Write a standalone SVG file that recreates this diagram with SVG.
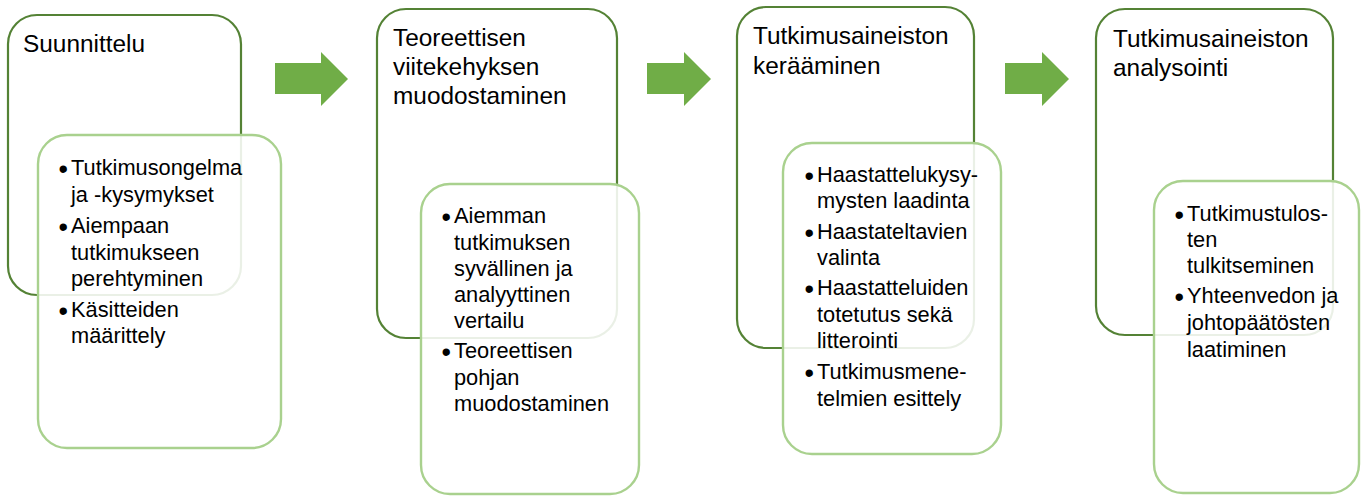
<svg xmlns="http://www.w3.org/2000/svg" width="1367" height="496" viewBox="0 0 1367 496">
<style>
.outer{fill:#ffffff;stroke:#548235;stroke-width:2.2}
.inner{fill:#ffffff;fill-opacity:0.88;stroke:#a9d18e;stroke-width:2.4}
.title{font-family:"Liberation Sans",Arial,sans-serif;font-size:24.4px;fill:#000}
.item{font-family:"Liberation Sans",Arial,sans-serif;font-size:21.8px;fill:#000}
.b{font-size:27px}
.arrow{fill:#70ad47}
</style>
<rect width="1367" height="496" fill="#ffffff"/>
<g id="connectors">
<path class="arrow" d="M275,63 H321 V52 L348,79 L321,106 V94 H275 Z"/>
<path class="arrow" d="M647,63 H684 V52 L711,79 L684,106 V94 H647 Z"/>
<path class="arrow" d="M1005,63 H1042 V52 L1069,79 L1042,106 V94 H1005 Z"/>
</g>
<g id="n1">
<rect class="outer" x="8" y="15" width="233" height="280" rx="29"/>
<text class="title" x="23" y="52">Suunnittelu</text>
</g>
<g id="n1-detail">
<rect class="inner" x="38" y="135" width="243" height="313" rx="29"/>
<g class="item">
<text class="b" x="58.5" y="178">•</text><text x="71" y="175">Tutkimusongelma</text>
<text x="71" y="202">ja -kysymykset</text>
<text class="b" x="58.5" y="236">•</text><text x="71" y="233">Aiempaan</text>
<text x="71" y="260">tutkimukseen</text>
<text x="71" y="286">perehtyminen</text>
<text class="b" x="58.5" y="320">•</text><text x="71" y="317">Käsitteiden</text>
<text x="71" y="343">määrittely</text>
</g>
</g>
<g id="n2">
<rect class="outer" x="377" y="9" width="240" height="329" rx="29"/>
<text class="title" x="393" y="46">Teoreettisen</text>
<text class="title" x="393" y="75">viitekehyksen</text>
<text class="title" x="393" y="104">muodostaminen</text>
</g>
<g id="n2-detail">
<rect class="inner" x="421" y="184" width="218" height="310" rx="29"/>
<g class="item">
<text class="b" x="441.5" y="226">•</text><text x="454" y="223">Aiemman</text>
<text x="454" y="250">tutkimuksen</text>
<text x="454" y="276">syvällinen ja</text>
<text x="454" y="302">analyyttinen</text>
<text x="454" y="328">vertailu</text>
<text class="b" x="441.5" y="361">•</text><text x="454" y="358">Teoreettisen</text>
<text x="454" y="385">pohjan</text>
<text x="454" y="411">muodostaminen</text>
</g>
</g>
<g id="n3">
<rect class="outer" x="737" y="7" width="237" height="341" rx="29"/>
<text class="title" x="753" y="44">Tutkimusaineiston</text>
<text class="title" x="753" y="74">kerääminen</text>
</g>
<g id="n3-detail">
<rect class="inner" x="783" y="143" width="218" height="311" rx="29"/>
<g class="item">
<text class="b" x="804.5" y="185">•</text><text x="817" y="182">Haastattelukysy-</text>
<text x="817" y="208">mysten laadinta</text>
<text class="b" x="804.5" y="242">•</text><text x="817" y="239">Haastateltavien</text>
<text x="817" y="265">valinta</text>
<text class="b" x="804.5" y="298">•</text><text x="817" y="295">Haastatteluiden</text>
<text x="817" y="322">totetutus sekä</text>
<text x="817" y="348">litterointi</text>
<text class="b" x="804.5" y="382">•</text><text x="817" y="379">Tutkimusmene-</text>
<text x="817" y="406">telmien esittely</text>
</g>
</g>
<g id="n4">
<rect class="outer" x="1096" y="9" width="237" height="326" rx="29"/>
<text class="title" x="1113" y="47">Tutkimusaineiston</text>
<text class="title" x="1113" y="76">analysointi</text>
</g>
<g id="n4-detail">
<rect class="inner" x="1154" y="181" width="205" height="312" rx="29"/>
<g class="item">
<text class="b" x="1174.5" y="224">•</text><text x="1187" y="221">Tutkimustulos-</text>
<text x="1187" y="247">ten</text>
<text x="1187" y="273">tulkitseminen</text>
<text class="b" x="1174.5" y="306">•</text><text x="1187" y="303">Yhteenvedon ja</text>
<text x="1187" y="330">johtopäätösten</text>
<text x="1187" y="357">laatiminen</text>
</g>
</g>
</svg>
